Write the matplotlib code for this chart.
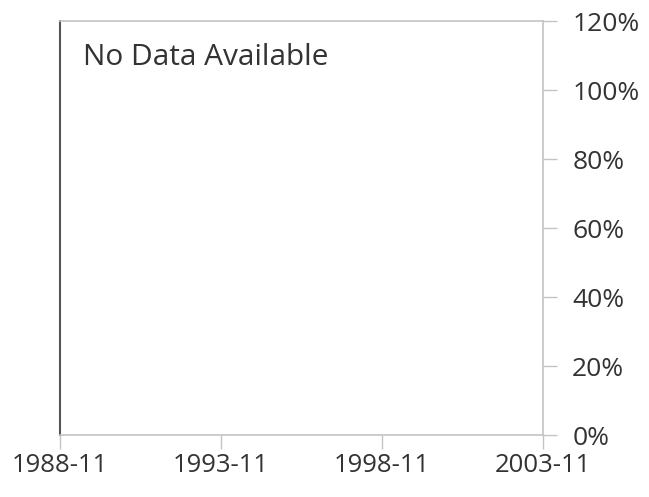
import matplotlib
matplotlib.use('Agg')
import matplotlib.pyplot as plt
import datetime as dt

# x range and ticks (no series data in this chart)
x_start = dt.date(1988, 11, 1)
x_end = dt.date(2003, 11, 1)
x_tick_dates = [dt.date(1988, 11, 1), dt.date(1993, 11, 1), dt.date(1998, 11, 1), dt.date(2003, 11, 1)]
x_tick_labels = ['1988-11', '1993-11', '1998-11', '2003-11']
y_ticks = [0, 20, 40, 60, 80, 100, 120]
y_tick_labels = ['0%', '20%', '40%', '60%', '80%', '100%', '120%']
message = 'No Data Available'

plt.rcParams['font.family'] = ['Open Sans', 'DejaVu Sans']
text_color = '#333333'
light = '#c4c4c4'

fig = plt.figure(figsize=(6.49, 4.97), dpi=100)
ax = fig.add_axes([0.0924, 0.1247, 0.8367 - 0.0924, 0.9577 - 0.1247])

ax.set_xlim(x_start, x_end)
ax.set_ylim(0, 120)
ax.set_xticks(x_tick_dates)
ax.set_xticklabels(x_tick_labels)
ax.set_yticks(y_ticks)
ax.set_yticklabels(y_tick_labels)

ax.yaxis.tick_right()
ax.tick_params(axis='y', length=10, width=1, color=light, pad=11,
               labelsize=19, labelcolor=text_color)
ax.tick_params(axis='x', length=10, width=1, color=light, pad=3,
               labelsize=18.5, labelcolor=text_color)

for side in ['top', 'right', 'bottom']:
    ax.spines[side].set_color(light)
    ax.spines[side].set_linewidth(1.2)
ax.spines['left'].set_color('#555555')
ax.spines['left'].set_linewidth(1.5)

ax.text(0.048, 0.948, message, transform=ax.transAxes, ha='left', va='top',
        fontsize=21.5, color=text_color)

fig.savefig('out.png', dpi=100)
